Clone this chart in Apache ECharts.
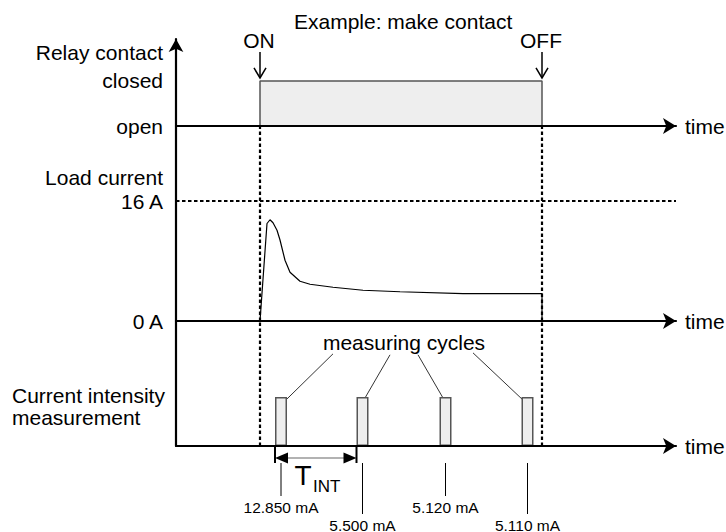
<!DOCTYPE html>
<html>
<head>
<meta charset="utf-8">
<script src="https://cdn.jsdelivr.net/npm/echarts@6/dist/echarts.min.js"></script>
<style>
html, body { margin: 0; padding: 0; background: #fff; }
#chart { width: 726px; height: 532px; }
</style>
</head>
<body>
<div id="chart"></div>
<script>
var FONT = '"Liberation Sans", Arial, Helvetica, sans-serif';

// switching events, time axis runs 0..100
var switchOn = 16.8;
var switchOff = 73.2;
var eventNames = ['ON', 'OFF'];
var eventTimes = [switchOn, switchOff];

// relay contact: 0 = open, 1 = closed
var relayTimes = [switchOn, switchOn, switchOff, switchOff];
var relayState = [0, 1, 1, 0];

// load current (A)
var loadTimes = [16.8, 18.2, 18.8, 19.4, 20.2, 20.8, 21.8, 22.8, 23.8, 24.8, 26.8, 31.4, 37.4, 44.8, 57.4, 73.2, 73.2];
var loadAmps  = [0, 13.0, 13.5, 13.1, 12.1, 10.8, 8.1, 6.5, 5.9, 5.3, 4.9, 4.5, 4.1, 3.9, 3.65, 3.65, 0];
var ratedAmps = 16;

// measuring cycles and the values read
var cycleTimes = [21.0, 37.3, 53.9, 70.3];
var readings = ['12.850 mA', '5.500 mA', '5.120 mA', '5.110 mA'];
var readingLong = [0, 1, 0, 1];

// callouts "measuring cycles" -> bar : [fromT, fromLevel, toT, toLevel]
var callouts = [[31.4, 1.88, 21.4, 0.88], [42.8, 1.86, 37.8, 0.98], [48.4, 1.86, 53.4, 0.98], [59.4, 1.9, 70.0, 0.88]];

var chart = echarts.init(document.getElementById('chart'), null, {renderer: 'svg'});

function zip(a, b) {
    return a.map(function (v, i) { return [v, b[i]]; });
}

var blackLine = {color: '#000', width: 2.2};
var dashed = {color: '#000', width: 2.2, type: [3.5, 2.5]};

function timeAxis(i) {
    return {
        gridIndex: i, type: 'value', min: 0, max: 100, z: 5,
        name: 'time', nameLocation: 'end', nameGap: 9,
        nameTextStyle: {fontSize: 21, color: '#000', fontFamily: FONT},
        axisLine: {show: true, symbol: ['none', 'arrow'], symbolSize: [12, 13], lineStyle: blackLine},
        axisTick: {show: false},
        axisLabel: {show: false},
        splitLine: {show: false}
    };
}

function levelAxis(i, max, interval, fmt, arrow) {
    return {
        gridIndex: i, type: 'value', min: 0, max: max, interval: interval, z: 5,
        axisLine: {show: true, symbol: arrow ? ['none', 'arrow'] : 'none', symbolSize: [11, 13], lineStyle: blackLine},
        axisTick: {show: false},
        splitLine: {show: false},
        axisLabel: {show: !!fmt, margin: 13, fontSize: 21, color: '#000', fontFamily: FONT, formatter: fmt}
    };
}

var labelText = {fontSize: 21, fill: '#000', fontFamily: FONT};

chart.setOption({
    animation: false,
    textStyle: {fontFamily: FONT},
    title: {
        text: 'Example: make contact',
        left: 289, top: 6,
        textStyle: {fontSize: 21, fontWeight: 'normal', color: '#000', fontFamily: FONT}
    },
    grid: [
        {left: 176, right: 50, top: 39, height: 87, outerBoundsMode: 'none'},
        {left: 176, right: 50, top: 126, height: 195, outerBoundsMode: 'none'},
        {left: 176, right: 50, top: 321, height: 125, outerBoundsMode: 'none'}
    ],
    xAxis: [timeAxis(0), timeAxis(1), timeAxis(2)],
    yAxis: [
        levelAxis(0, 1.93, 1, function (v) { return v === 0 ? 'open' : v === 1 ? 'closed' : ''; }, true),
        levelAxis(1, 26, 16, function (v) { return (v === 0 || v === ratedAmps) ? v + ' A' : ''; }, false),
        levelAxis(2, 2.55, 1, null, false)
    ],
    graphic: [
        {type: 'text', x: 163, y: 52, style: Object.assign({text: 'Relay contact', align: 'right', verticalAlign: 'middle'}, labelText)},
        {type: 'text', x: 163, y: 177, style: Object.assign({text: 'Load current', align: 'right', verticalAlign: 'middle'}, labelText)},
        {type: 'text', x: 12, y: 395, style: Object.assign({text: 'Current intensity', align: 'left', verticalAlign: 'middle'}, labelText)},
        {type: 'text', x: 12, y: 417, style: Object.assign({text: 'measurement', align: 'left', verticalAlign: 'middle'}, labelText)},
        {type: 'text', x: 404, y: 342, style: Object.assign({text: 'measuring cycles', align: 'center', verticalAlign: 'middle'}, labelText)}
    ],
    series: [
        {
            name: 'relay', type: 'line', xAxisIndex: 0, yAxisIndex: 0,
            data: zip(relayTimes, relayState),
            symbol: 'none',
            lineStyle: {color: '#555', width: 1.5},
            areaStyle: {color: '#eeeeee', opacity: 1}
        },
        {
            name: 'events', type: 'custom', xAxisIndex: 0, yAxisIndex: 0, clip: false,
            data: eventTimes.map(function (t) { return [t, 1]; }),
            renderItem: function (params, api) {
                var p = api.coord([api.value(0), api.value(1)]);
                var x = p[0], y = p[1];
                return {type: 'group', children: [
                    {type: 'line', shape: {x1: x, y1: y - 29, x2: x, y2: y - 3}, style: {stroke: '#000', lineWidth: 1.5}},
                    {type: 'polyline', shape: {points: [[x - 6, y - 13], [x, y - 3], [x + 6, y - 13]]}, style: {stroke: '#000', lineWidth: 1.5, fill: null}},
                    {type: 'text', style: {text: eventNames[params.dataIndex], x: x - 1, y: y - 40, align: 'center', verticalAlign: 'middle', fontSize: 21, fill: '#000', fontFamily: FONT}}
                ]};
            }
        },
        {
            name: 'load current', type: 'line', xAxisIndex: 1, yAxisIndex: 1,
            data: zip(loadTimes, loadAmps),
            symbol: 'none',
            lineStyle: {color: '#000', width: 1.2},
            markLine: {
                silent: true, symbol: ['none', 'none'], label: {show: false},
                lineStyle: dashed,
                data: [{xAxis: switchOn}, {xAxis: switchOff}, {yAxis: ratedAmps}]
            }
        },
        {
            name: 'measuring cycles', type: 'bar', xAxisIndex: 2, yAxisIndex: 2,
            data: cycleTimes.map(function (t) { return [t, 1]; }),
            barWidth: 12,
            itemStyle: {color: '#eeeeee', borderColor: '#555', borderWidth: 1.5},
            markLine: {
                silent: true, symbol: ['none', 'none'], label: {show: false},
                lineStyle: dashed,
                data: [{xAxis: switchOn}, {xAxis: switchOff}]
            }
        },
        {
            name: 'callouts', type: 'custom', xAxisIndex: 2, yAxisIndex: 2, clip: false,
            data: callouts,
            renderItem: function (params, api) {
                var a = api.coord([api.value(0), api.value(1)]);
                var b = api.coord([api.value(2), api.value(3)]);
                return {type: 'line', shape: {x1: a[0], y1: a[1], x2: b[0], y2: b[1]}, style: {stroke: '#000', lineWidth: 0.8}};
            }
        },
        {
            name: 'readings', type: 'custom', xAxisIndex: 2, yAxisIndex: 2, clip: false,
            data: cycleTimes.map(function (t) { return [t, 0]; }),
            renderItem: function (params, api) {
                var p = api.coord([api.value(0), 0]);
                var longer = readingLong[params.dataIndex];
                return {type: 'group', children: [
                    {type: 'line', shape: {x1: p[0], y1: p[1] + 17, x2: p[0], y2: p[1] + (longer ? 68 : 50)}, style: {stroke: '#000', lineWidth: 1}},
                    {type: 'text', style: {text: readings[params.dataIndex], x: p[0], y: p[1] + (longer ? 79 : 61), align: 'center', verticalAlign: 'middle', fontSize: 15.5, fill: '#000', fontFamily: FONT}}
                ]};
            }
        },
        {
            name: 'T_INT', type: 'custom', xAxisIndex: 2, yAxisIndex: 2, clip: false,
            data: [[cycleTimes[0], cycleTimes[1]]],
            renderItem: function (params, api) {
                var a = api.coord([api.value(0), 0]);
                var b = api.coord([api.value(1), 0]);
                var xa = a[0] - 6, xb = b[0] - 6, y0 = a[1], y = y0 + 12;
                return {type: 'group', children: [
                    {type: 'line', shape: {x1: xa, y1: y0, x2: xa, y2: y0 + 17}, style: {stroke: '#000', lineWidth: 2}},
                    {type: 'line', shape: {x1: xb, y1: y0, x2: xb, y2: y0 + 17}, style: {stroke: '#000', lineWidth: 2}},
                    {type: 'line', shape: {x1: xa + 10, y1: y, x2: xb - 10, y2: y}, style: {stroke: '#666', lineWidth: 1.2}},
                    {type: 'polygon', shape: {points: [[xa, y], [xa + 13, y - 5.5], [xa + 13, y + 5.5]]}, style: {fill: '#000'}},
                    {type: 'polygon', shape: {points: [[xb, y], [xb - 13, y - 5.5], [xb - 13, y + 5.5]]}, style: {fill: '#000'}},
                    {type: 'text', style: {text: 'T', x: xa + 28, y: y + 17, align: 'center', verticalAlign: 'middle', fontSize: 28, fill: '#000', fontFamily: FONT}},
                    {type: 'text', style: {text: 'INT', x: xa + 38, y: y + 28, align: 'left', verticalAlign: 'middle', fontSize: 17, fill: '#000', fontFamily: FONT}}
                ]};
            }
        }
    ]
});
</script>
</body>
</html>
